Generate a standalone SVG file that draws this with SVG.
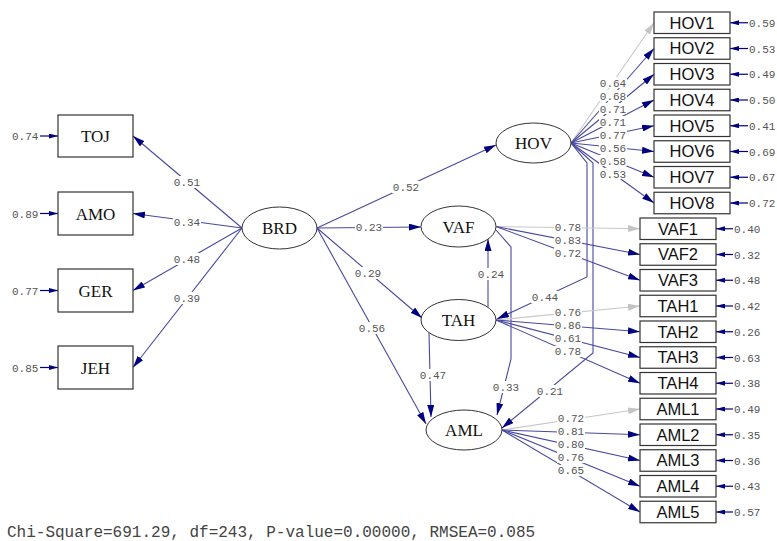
<svg xmlns="http://www.w3.org/2000/svg" width="777" height="541" viewBox="0 0 777 541">
<defs>
<marker id="ah" viewBox="0 0 12 7" refX="12" refY="3.5" markerWidth="12" markerHeight="7" markerUnits="userSpaceOnUse" orient="auto"><path d="M0,0 L12,3.5 L0,7 z" fill="#000080"/></marker>
<marker id="ahl" viewBox="0 0 12 7" refX="12" refY="3.5" markerWidth="12" markerHeight="7" markerUnits="userSpaceOnUse" orient="auto"><path d="M0,0 L12,3.5 L0,7 z" fill="#c4c4c4"/></marker>
<marker id="ae" viewBox="0 0 9 5" refX="9" refY="2.5" markerWidth="9" markerHeight="5" markerUnits="userSpaceOnUse" orient="auto"><path d="M0,0 L9,2.5 L0,5 z" fill="#000080"/></marker>
</defs>
<style>
.l{fill:none;stroke:#4848a0;stroke-width:1.1;marker-end:url(#ah)}
.lg{fill:none;stroke:#c8c8c8;stroke-width:1.1;marker-end:url(#ahl)}
.e{fill:none;stroke:#000080;stroke-width:1.2;marker-end:url(#ae)}
.n{font-family:"Liberation Mono","DejaVu Sans Mono",monospace;font-size:11px;fill:#555}
.c{text-anchor:middle}
.bg{fill:#fff}
.box{fill:#fff;stroke:#333;stroke-width:1.2}
.ell{fill:#fff;stroke:#333;stroke-width:1}
.sl{font-family:"Liberation Serif",serif;font-size:17px;fill:#111;text-anchor:middle}
.ml{font-family:"Liberation Sans",Arial,sans-serif;font-size:16.5px;fill:#111;text-anchor:middle}
</style>
<rect width="777" height="541" fill="#fff"/>
<g id="connectors">
<path class="l" d="M242,228 L133,136"/>
<path class="l" d="M242,228 L133,213.5"/>
<path class="l" d="M242,228 L133,290.5"/>
<path class="l" d="M242,228 L133,367.5"/>
<path class="l" d="M317,228 L496,145"/>
<path class="l" d="M317,228 L421,227"/>
<path class="l" d="M317,228 L422,318"/>
<path class="l" d="M317,228 L426,424"/>
<path class="l" d="M488,307 L488,239"/>
<path class="l" d="M429,333 L431,417"/>
<path class="l" d="M496,230 L511,247 L511,359 L497,415"/>
<path class="l" d="M571,143 L587,163 L587,277 L497,319"/>
<path class="l" d="M571,143 L593,163 L593,353 L502,428"/>
<path class="lg" d="M571,143 L654,22.75"/>
<path class="l" d="M571,143 L654,48.5"/>
<path class="l" d="M571,143 L654,74.25"/>
<path class="l" d="M571,143 L654,100"/>
<path class="l" d="M571,143 L654,125.75"/>
<path class="l" d="M571,143 L654,151.5"/>
<path class="l" d="M571,143 L654,177.25"/>
<path class="l" d="M571,143 L654,203"/>
<path class="lg" d="M496,226.5 L640,228.75"/>
<path class="l" d="M496,226.5 L640,254.5"/>
<path class="l" d="M496,226.5 L640,280.25"/>
<path class="lg" d="M496,320 L640,306"/>
<path class="l" d="M496,320 L640,331.75"/>
<path class="l" d="M496,320 L640,357.5"/>
<path class="l" d="M496,320 L640,383.25"/>
<path class="lg" d="M502,430 L640,409"/>
<path class="l" d="M502,430 L640,434.75"/>
<path class="l" d="M502,430 L640,460.5"/>
<path class="l" d="M502,430 L640,486.25"/>
<path class="l" d="M502,430 L640,512"/>
<path class="e" d="M40,136 L58,136"/>
<path class="e" d="M40,213.5 L58,213.5"/>
<path class="e" d="M40,290.5 L58,290.5"/>
<path class="e" d="M40,367.5 L58,367.5"/>
<path class="e" d="M748,22.75 L730,22.75"/>
<path class="e" d="M748,48.5 L730,48.5"/>
<path class="e" d="M748,74.25 L730,74.25"/>
<path class="e" d="M748,100 L730,100"/>
<path class="e" d="M748,125.75 L730,125.75"/>
<path class="e" d="M748,151.5 L730,151.5"/>
<path class="e" d="M748,177.25 L730,177.25"/>
<path class="e" d="M748,203 L730,203"/>
<path class="e" d="M733,228.75 L716,228.75"/>
<path class="e" d="M733,254.5 L716,254.5"/>
<path class="e" d="M733,280.25 L716,280.25"/>
<path class="e" d="M733,306 L716,306"/>
<path class="e" d="M733,331.75 L716,331.75"/>
<path class="e" d="M733,357.5 L716,357.5"/>
<path class="e" d="M733,383.25 L716,383.25"/>
<path class="e" d="M733,409 L716,409"/>
<path class="e" d="M733,434.75 L716,434.75"/>
<path class="e" d="M733,460.5 L716,460.5"/>
<path class="e" d="M733,486.25 L716,486.25"/>
<path class="e" d="M733,512 L716,512"/>
</g>
<g id="path-labels">
<g class="bg">
<rect x="173" y="176" width="28" height="12"/>
<rect x="173" y="216" width="28" height="12"/>
<rect x="173" y="253" width="28" height="12"/>
<rect x="173" y="292" width="28" height="12"/>
<rect x="392" y="181" width="28" height="12"/>
<rect x="355" y="221" width="28" height="12"/>
<rect x="354" y="267" width="28" height="12"/>
<rect x="358" y="322" width="28" height="12"/>
<rect x="477" y="268" width="28" height="12"/>
<rect x="419" y="369" width="28" height="12"/>
<rect x="492" y="381" width="28" height="12"/>
<rect x="531" y="291" width="28" height="12"/>
<rect x="536" y="385" width="28" height="12"/>
<rect x="599" y="77" width="28" height="11"/>
<rect x="599" y="90" width="28" height="11"/>
<rect x="599" y="103" width="28" height="11"/>
<rect x="599" y="116" width="28" height="11"/>
<rect x="599" y="129" width="28" height="11"/>
<rect x="599" y="142" width="28" height="11"/>
<rect x="599" y="155" width="28" height="11"/>
<rect x="599" y="168" width="28" height="11"/>
<rect x="554" y="222" width="28" height="11"/>
<rect x="554" y="235" width="28" height="11"/>
<rect x="554" y="248" width="28" height="11"/>
<rect x="554" y="307" width="28" height="11"/>
<rect x="554" y="320" width="28" height="11"/>
<rect x="554" y="333" width="28" height="11"/>
<rect x="554" y="346" width="28" height="11"/>
<rect x="557" y="413" width="28" height="11"/>
<rect x="557" y="426" width="28" height="11"/>
<rect x="557" y="439" width="28" height="11"/>
<rect x="557" y="452" width="28" height="11"/>
<rect x="557" y="465" width="28" height="11"/>
</g>
<g class="n c">
<text x="187" y="186">0.51</text>
<text x="187" y="226">0.34</text>
<text x="187" y="263">0.48</text>
<text x="187" y="302">0.39</text>
<text x="406" y="191">0.52</text>
<text x="369" y="231">0.23</text>
<text x="368" y="277">0.29</text>
<text x="372" y="332">0.56</text>
<text x="491" y="278">0.24</text>
<text x="433" y="379">0.47</text>
<text x="506" y="391">0.33</text>
<text x="545" y="301">0.44</text>
<text x="550" y="395">0.21</text>
<text x="613" y="87">0.64</text>
<text x="613" y="100">0.68</text>
<text x="613" y="113">0.71</text>
<text x="613" y="126">0.71</text>
<text x="613" y="139">0.77</text>
<text x="613" y="152">0.56</text>
<text x="613" y="165">0.58</text>
<text x="613" y="178">0.53</text>
<text x="568" y="231">0.78</text>
<text x="568" y="244">0.83</text>
<text x="568" y="257">0.72</text>
<text x="568" y="316">0.76</text>
<text x="568" y="329">0.86</text>
<text x="568" y="342">0.61</text>
<text x="568" y="355">0.78</text>
<text x="571" y="422">0.72</text>
<text x="571" y="435">0.81</text>
<text x="571" y="448">0.80</text>
<text x="571" y="461">0.76</text>
<text x="571" y="474">0.65</text>
</g>
<g class="n">
<text x="12" y="140">0.74</text>
<text x="12" y="217.5">0.89</text>
<text x="12" y="294.5">0.77</text>
<text x="12" y="371.5">0.85</text>
<text x="749" y="26.75">0.59</text>
<text x="749" y="52.5">0.53</text>
<text x="749" y="78.25">0.49</text>
<text x="749" y="104">0.50</text>
<text x="749" y="129.75">0.41</text>
<text x="749" y="155.5">0.69</text>
<text x="749" y="181.25">0.67</text>
<text x="749" y="207">0.72</text>
<text x="734" y="232.75">0.40</text>
<text x="734" y="258.5">0.32</text>
<text x="734" y="284.25">0.48</text>
<text x="734" y="310">0.42</text>
<text x="734" y="335.75">0.26</text>
<text x="734" y="361.5">0.63</text>
<text x="734" y="387.25">0.38</text>
<text x="734" y="413">0.49</text>
<text x="734" y="438.75">0.35</text>
<text x="734" y="464.5">0.36</text>
<text x="734" y="490.25">0.43</text>
<text x="734" y="516">0.57</text>
</g>
</g>
<g id="TOJ"><rect class="box" x="58" y="115" width="75" height="42"/><text class="sl" x="95.5" y="142">TOJ</text></g>
<g id="AMO"><rect class="box" x="58" y="192" width="75" height="43"/><text class="sl" x="95.5" y="219.5">AMO</text></g>
<g id="GER"><rect class="box" x="58" y="269" width="75" height="43"/><text class="sl" x="95.5" y="296.5">GER</text></g>
<g id="JEH"><rect class="box" x="58" y="346" width="75" height="43"/><text class="sl" x="95.5" y="373.5">JEH</text></g>
<g id="BRD"><ellipse class="ell" cx="279.5" cy="228" rx="37.5" ry="21"/><text class="sl" x="279.5" y="234">BRD</text></g>
<g id="HOV"><ellipse class="ell" cx="533.5" cy="143" rx="37.5" ry="20"/><text class="sl" x="533.5" y="149">HOV</text></g>
<g id="VAF"><ellipse class="ell" cx="458.5" cy="226.5" rx="37.5" ry="20.5"/><text class="sl" x="458.5" y="232.5">VAF</text></g>
<g id="TAH"><ellipse class="ell" cx="458.5" cy="320" rx="37.5" ry="20.5"/><text class="sl" x="458.5" y="326">TAH</text></g>
<g id="AML"><ellipse class="ell" cx="464" cy="430" rx="38" ry="20"/><text class="sl" x="464" y="436">AML</text></g>
<g id="HOV1"><rect class="box" x="654" y="12" width="76" height="21.5"/><text class="ml" x="692" y="28.5">HOV1</text></g>
<g id="HOV2"><rect class="box" x="654" y="37.75" width="76" height="21.5"/><text class="ml" x="692" y="54.25">HOV2</text></g>
<g id="HOV3"><rect class="box" x="654" y="63.5" width="76" height="21.5"/><text class="ml" x="692" y="80">HOV3</text></g>
<g id="HOV4"><rect class="box" x="654" y="89.25" width="76" height="21.5"/><text class="ml" x="692" y="105.75">HOV4</text></g>
<g id="HOV5"><rect class="box" x="654" y="115" width="76" height="21.5"/><text class="ml" x="692" y="131.5">HOV5</text></g>
<g id="HOV6"><rect class="box" x="654" y="140.75" width="76" height="21.5"/><text class="ml" x="692" y="157.25">HOV6</text></g>
<g id="HOV7"><rect class="box" x="654" y="166.5" width="76" height="21.5"/><text class="ml" x="692" y="183">HOV7</text></g>
<g id="HOV8"><rect class="box" x="654" y="192.25" width="76" height="21.5"/><text class="ml" x="692" y="208.75">HOV8</text></g>
<g id="VAF1"><rect class="box" x="640" y="218" width="76" height="21.5"/><text class="ml" x="678" y="234.5">VAF1</text></g>
<g id="VAF2"><rect class="box" x="640" y="243.75" width="76" height="21.5"/><text class="ml" x="678" y="260.25">VAF2</text></g>
<g id="VAF3"><rect class="box" x="640" y="269.5" width="76" height="21.5"/><text class="ml" x="678" y="286">VAF3</text></g>
<g id="TAH1"><rect class="box" x="640" y="295.25" width="76" height="21.5"/><text class="ml" x="678" y="311.75">TAH1</text></g>
<g id="TAH2"><rect class="box" x="640" y="321" width="76" height="21.5"/><text class="ml" x="678" y="337.5">TAH2</text></g>
<g id="TAH3"><rect class="box" x="640" y="346.75" width="76" height="21.5"/><text class="ml" x="678" y="363.25">TAH3</text></g>
<g id="TAH4"><rect class="box" x="640" y="372.5" width="76" height="21.5"/><text class="ml" x="678" y="389">TAH4</text></g>
<g id="AML1"><rect class="box" x="640" y="398.25" width="76" height="21.5"/><text class="ml" x="678" y="414.75">AML1</text></g>
<g id="AML2"><rect class="box" x="640" y="424" width="76" height="21.5"/><text class="ml" x="678" y="440.5">AML2</text></g>
<g id="AML3"><rect class="box" x="640" y="449.75" width="76" height="21.5"/><text class="ml" x="678" y="466.25">AML3</text></g>
<g id="AML4"><rect class="box" x="640" y="475.5" width="76" height="21.5"/><text class="ml" x="678" y="492">AML4</text></g>
<g id="AML5"><rect class="box" x="640" y="501.25" width="76" height="21.5"/><text class="ml" x="678" y="517.75">AML5</text></g>
<text x="7" y="537" font-family="'Liberation Mono','DejaVu Sans Mono',monospace" font-size="16" fill="#444">Chi-Square=691.29, df=243, P-value=0.00000, RMSEA=0.085</text>
</svg>
